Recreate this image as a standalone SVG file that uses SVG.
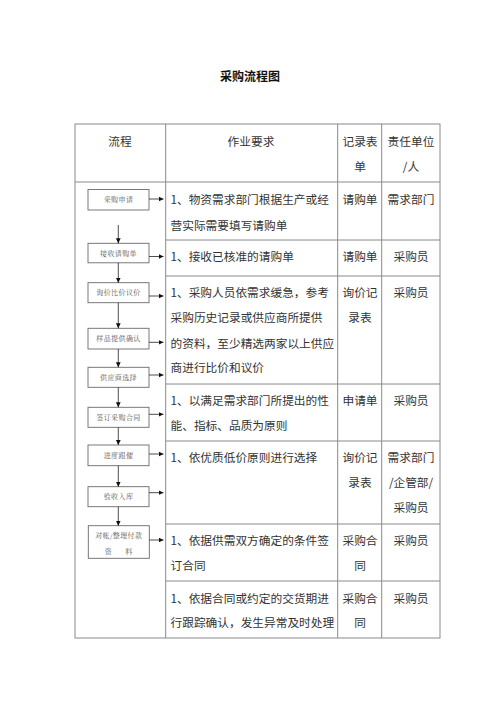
<svg xmlns="http://www.w3.org/2000/svg" width="500" height="707" viewBox="0 0 500 707">
<style>
.t{font-family:"Noto Sans CJK SC","Noto Sans",sans-serif;font-size:11.7px;fill:#333}
.c{text-anchor:middle}
.title{font-family:"Noto Sans CJK SC",sans-serif;font-size:12px;font-weight:bold;fill:#111;text-anchor:middle}
.grid{stroke:#8a8a8a;stroke-width:1;fill:none}
.box rect{fill:#fff;stroke:#6a6a6a;stroke-width:0.9}
.box text{font-family:"Noto Serif CJK SC","Noto Sans CJK SC",serif;font-size:7px;fill:#555;text-anchor:middle;letter-spacing:0.4px}
.conn line{stroke:#222;stroke-width:0.8}
</style>
<defs>
<marker id="ah" markerUnits="userSpaceOnUse" markerWidth="6" markerHeight="6" refX="5" refY="3" orient="auto">
<path d="M0,0.6 L5,3 L0,5.4 Z" fill="#111"/>
</marker>
</defs>
<rect width="500" height="707" fill="#fff"/>
<text class="title" x="250" y="80.5">采购流程图</text>
<g id="table">
<rect class="grid" x="75" y="124" width="365" height="514"/>
<line class="grid" x1="75" y1="182" x2="440" y2="182"/>
<line class="grid" x1="165.7" y1="124" x2="165.7" y2="638"/>
<line class="grid" x1="337.7" y1="124" x2="337.7" y2="638"/>
<line class="grid" x1="381.7" y1="124" x2="381.7" y2="638"/>
<line class="grid" x1="165.7" y1="240" x2="440" y2="240"/>
<line class="grid" x1="165.7" y1="276" x2="440" y2="276"/>
<line class="grid" x1="165.7" y1="384" x2="440" y2="384"/>
<line class="grid" x1="165.7" y1="441" x2="440" y2="441"/>
<line class="grid" x1="165.7" y1="524" x2="440" y2="524"/>
<line class="grid" x1="165.7" y1="581" x2="440" y2="581"/>
<text class="t c" x="120" y="145.5">流程</text>
<text class="t c" x="251" y="146">作业要求</text>
<text class="t c" x="360" y="146">记录表</text>
<text class="t c" x="360" y="171">单</text>
<text class="t c" x="411" y="146">责任单位</text>
<text class="t c" x="411" y="171">/人</text>
<text class="t" x="170.5" y="203.5">1、物资需求部门根据生产或经</text>
<text class="t" x="170.5" y="229.5">营实际需要填写请购单</text>
<text class="t c" x="360" y="203.5">请购单</text>
<text class="t c" x="411" y="203.5">需求部门</text>
<text class="t" x="170.5" y="260.5">1、接收已核准的请购单</text>
<text class="t c" x="360" y="260.5">请购单</text>
<text class="t c" x="411" y="260.5">采购员</text>
<text class="t" x="170.5" y="296.5">1、采购人员依需求缓急，参考</text>
<text class="t" x="170.5" y="322">采购历史记录或供应商所提供</text>
<text class="t" x="170.5" y="347.5">的资料，至少精选两家以上供应</text>
<text class="t" x="170.5" y="372">商进行比价和议价</text>
<text class="t c" x="360" y="296.5">询价记</text>
<text class="t c" x="360" y="322">录表</text>
<text class="t c" x="411" y="296.5">采购员</text>
<text class="t" x="170.5" y="405">1、以满足需求部门所提出的性</text>
<text class="t" x="170.5" y="429.5">能、指标、品质为原则</text>
<text class="t c" x="360" y="405">申请单</text>
<text class="t c" x="411" y="405">采购员</text>
<text class="t" x="170.5" y="462">1、依优质低价原则进行选择</text>
<text class="t c" x="360" y="462">询价记</text>
<text class="t c" x="360" y="487">录表</text>
<text class="t c" x="411" y="462">需求部门</text>
<text class="t c" x="411" y="487">/企管部/</text>
<text class="t c" x="411" y="512">采购员</text>
<text class="t" x="170.5" y="545">1、依据供需双方确定的条件签</text>
<text class="t" x="170.5" y="569.5">订合同</text>
<text class="t c" x="360" y="545">采购合</text>
<text class="t c" x="360" y="569.5">同</text>
<text class="t c" x="411" y="545">采购员</text>
<text class="t" x="170.5" y="602.5">1、依据合同或约定的交货期进</text>
<text class="t" x="170.5" y="627">行跟踪确认，发生异常及时处理</text>
<text class="t c" x="360" y="602.5">采购合</text>
<text class="t c" x="360" y="627">同</text>
<text class="t c" x="411" y="602.5">采购员</text>
</g>
<g id="n1" class="box"><rect x="88" y="189.5" width="61" height="20.5"/><text x="118.5" y="202.3">采购申请</text></g>
<g id="n2" class="box"><rect x="88" y="243.3" width="61" height="19.5"/><text x="118.5" y="255.6">接收请购单</text></g>
<g id="n3" class="box"><rect x="88" y="282.7" width="61" height="20"/><text x="118.5" y="295.2">询价比价议价</text></g>
<g id="n4" class="box"><rect x="88" y="328.3" width="61" height="20.7"/><text x="118.5" y="341.2">样品提供确认</text></g>
<g id="n5" class="box"><rect x="88" y="367.3" width="61" height="20"/><text x="118.5" y="379.8">供应商选择</text></g>
<g id="n6" class="box"><rect x="88" y="407.3" width="61" height="20"/><text x="118.5" y="419.8">签订采购合同</text></g>
<g id="n7" class="box"><rect x="88" y="445" width="61" height="20.7"/><text x="118.5" y="457.9">进度跟催</text></g>
<g id="n8" class="box"><rect x="88" y="486.7" width="61" height="20"/><text x="118.5" y="499.2">验收入库</text></g>
<g id="n9" class="box"><rect x="88.3" y="525.7" width="61" height="32.6"/><text x="118.8" y="538.2">对帐/整理付款</text><text x="118.8" y="554.2" xml:space="preserve">资      料</text></g>
<g id="connectors" class="conn">
<line x1="118.3" y1="225" x2="118.3" y2="243.3" marker-end="url(#ah)"/>
<line x1="118.3" y1="262.8" x2="118.3" y2="282.7" marker-end="url(#ah)"/>
<line x1="118.3" y1="302.7" x2="118.3" y2="328.3" marker-end="url(#ah)"/>
<line x1="118.3" y1="349" x2="118.3" y2="367.3" marker-end="url(#ah)"/>
<line x1="118.3" y1="387.3" x2="118.3" y2="407.3" marker-end="url(#ah)"/>
<line x1="118.3" y1="427.3" x2="118.3" y2="445" marker-end="url(#ah)"/>
<line x1="118.3" y1="465.7" x2="118.3" y2="486.7" marker-end="url(#ah)"/>
<line x1="118.3" y1="506.7" x2="118.3" y2="525.7" marker-end="url(#ah)"/>
<line x1="149" y1="199" x2="163.5" y2="199" marker-end="url(#ah)"/>
<line x1="149" y1="256.5" x2="163.5" y2="256.5" marker-end="url(#ah)"/>
<line x1="149" y1="296" x2="163.5" y2="296" marker-end="url(#ah)"/>
<line x1="149" y1="342.3" x2="163.5" y2="342.3" marker-end="url(#ah)"/>
<line x1="149" y1="375" x2="163.5" y2="375" marker-end="url(#ah)"/>
<line x1="149" y1="414.3" x2="163.5" y2="414.3" marker-end="url(#ah)"/>
<line x1="149" y1="454" x2="163.5" y2="454" marker-end="url(#ah)"/>
<line x1="149" y1="492.7" x2="163.5" y2="492.7" marker-end="url(#ah)"/>
<line x1="149.3" y1="540" x2="163.5" y2="540" marker-end="url(#ah)"/>
</g>
</svg>
